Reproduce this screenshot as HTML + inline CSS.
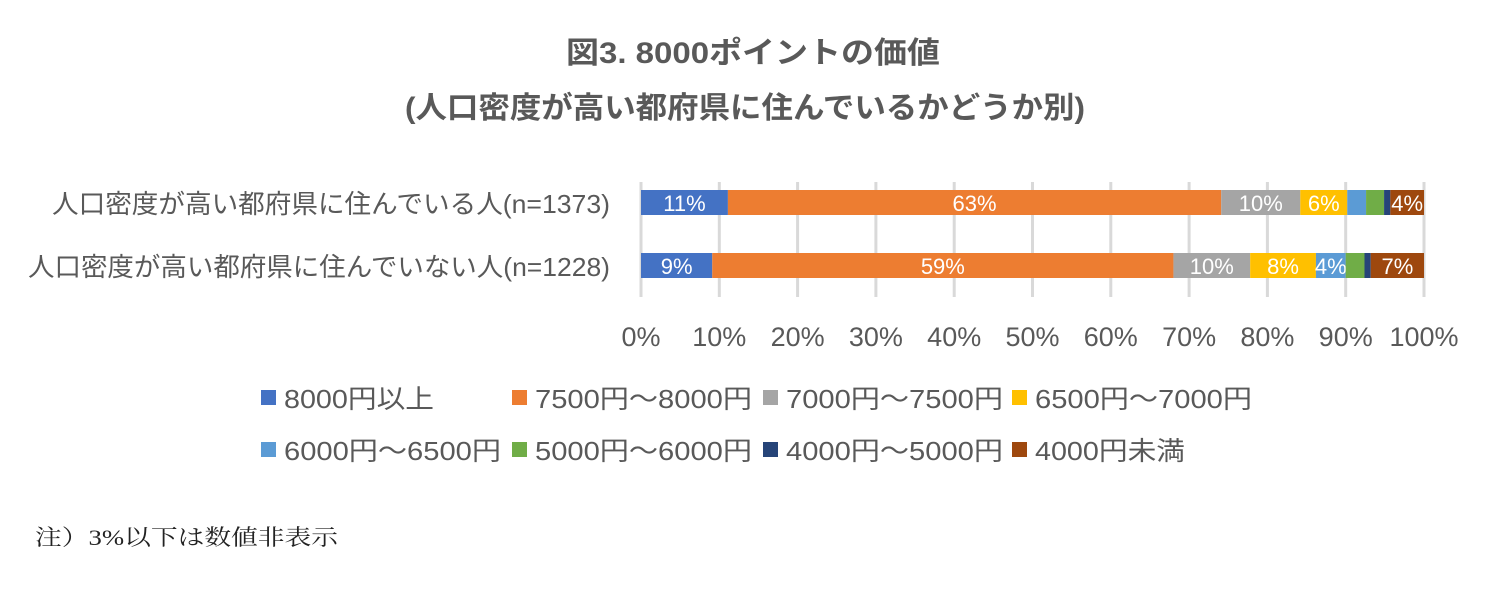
<!DOCTYPE html>
<html><head><meta charset="utf-8"><style>
body{margin:0;background:#fff;width:1505px;height:595px;overflow:hidden;font-family:"Liberation Sans","Noto Sans CJK JP",sans-serif}
</style></head><body>
<svg width="1505" height="595" xmlns="http://www.w3.org/2000/svg">
<g font-family="'Liberation Sans','Noto Sans CJK JP',sans-serif" font-weight="bold" font-size="30" fill="#595959" text-anchor="middle">
<text x="753" y="63" textLength="374" lengthAdjust="spacingAndGlyphs">図3. 8000ポイントの価値</text>
<text x="745" y="118" textLength="680" lengthAdjust="spacingAndGlyphs">(人口密度が高い都府県に住んでいるかどうか別)</text>
</g>
<g id="grid"></g><g id="bars"></g><g id="cats"></g><g id="ticks"></g><g id="legend"></g>
<text x="35" y="545" font-family="'Liberation Serif','Noto Serif CJK SC',serif" font-size="22" fill="#222" textLength="303" lengthAdjust="spacingAndGlyphs">注）3%以下は数値非表示</text>
</svg>
<script>
const categories=["人口密度が高い都府県に住んでいる人(n=1373)","人口密度が高い都府県に住んでいない人(n=1228)"];
const seriesNames=["8000円以上","7500円～8000円","7000円～7500円","6500円～7000円","6000円～6500円","5000円～6000円","4000円～5000円","4000円未満"];
const rowHigh=[11.1,63.0,10.1,6.0,2.4,2.3,0.8,4.3];
const rowLow=[9.1,58.9,9.8,8.4,3.8,2.4,0.8,6.8];
const labelsHigh=["11%","63%","10%","6%","","","","4%"];
const labelsLow=["9%","59%","10%","8%","4%","","","7%"];
const tickLabels=["0%","10%","20%","30%","40%","50%","60%","70%","80%","90%","100%"];
const colors=["#4472C4","#ED7D31","#A5A5A5","#FFC000","#5B9BD5","#70AD47","#264478","#9E480E"];
const NS="http://www.w3.org/2000/svg";
const x=v=>641+v*7.83;
function mk(tag,attrs,parent){const e=document.createElementNS(NS,tag);for(const k in attrs)e.setAttribute(k,attrs[k]);document.getElementById(parent).appendChild(e);return e;}
tickLabels.forEach((t,i)=>{
  const l=mk('line',{x1:x(i*10),x2:x(i*10),y1:182,y2:297,stroke:'#d9d9d9','stroke-width':3},'grid');
  
  
  const tx=mk('text',{x:x(i*10),y:346,'text-anchor':'middle','font-size':27,fill:'#595959'},'ticks');
  tx.textContent=t;
  
  
});
[[rowHigh,labelsHigh,190],[rowLow,labelsLow,253]].forEach(([vals,labs,y],r)=>{
  let acc=0;
  vals.forEach((v,i)=>{
    const rc=mk('rect',{x:x(acc),y:y,width:v*7.83,height:25,fill:colors[i]},'bars');
    
    
    if(labs[i]){const t=mk('text',{x:x(acc+v/2),y:y+21,'text-anchor':'middle','font-size':22,fill:'#fff'},'bars');t.textContent=labs[i];
      
      }
    acc+=v;
  });
  const c=mk('text',{x:610,y:y+23,'text-anchor':'end','font-size':26,fill:'#595959',textLength:r?582:558,lengthAdjust:'spacingAndGlyphs'},'cats');
  c.textContent=categories[r];
  
  
});
const lx=[261,512,763,1012];
seriesNames.forEach((n,i)=>{
  const cx=lx[i%4],cy=i<4?398:450;
  const s=mk('rect',{x:cx,y:cy-8,width:15,height:15,fill:colors[i]},'legend');
  
  
  const len=n.length>7?217:150;
  const t=mk('text',{x:cx+23,y:cy+10,'font-size':26,fill:'#595959',textLength:len,lengthAdjust:'spacingAndGlyphs'},'legend');
  t.textContent=n;
  
  
});
</script>
</body></html>
